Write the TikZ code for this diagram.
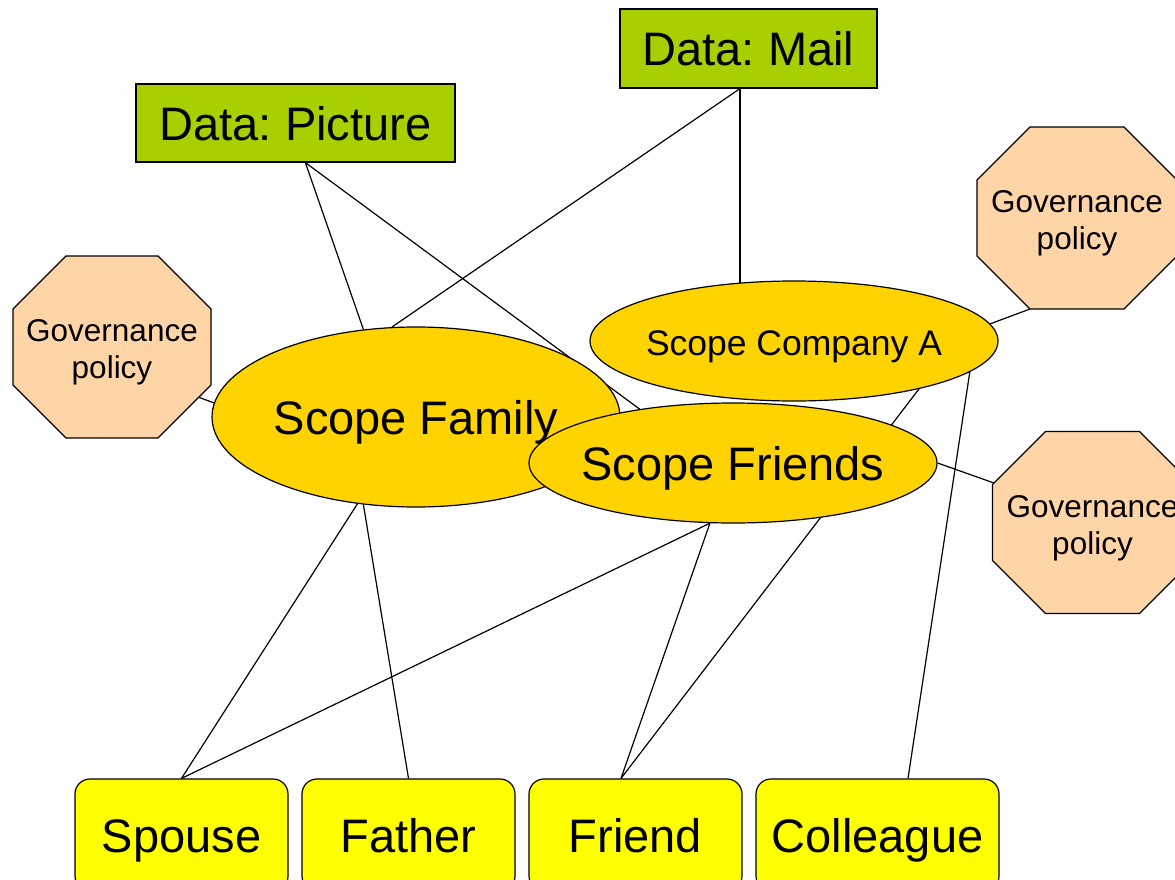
\documentclass[tikz,border=0pt]{standalone}
\usepackage{fontspec}
\setmainfont{Liberation Sans}
\usetikzlibrary{shapes.geometric}
\pgfdeclarelayer{background}
\pgfdeclarelayer{outlines}
\pgfsetlayers{background,outlines,main}
\frenchspacing
\definecolor{datagreen}{HTML}{A8D000}
\definecolor{scopegold}{HTML}{FFD300}
\definecolor{policypeach}{HTML}{FFD5A8}
\definecolor{roleyellow}{HTML}{FFFF00}
\tikzset{
  bigfont/.style={font=\fontsize{47}{56}\selectfont, text height=42pt, text depth=8pt},
  databox/.style={rectangle, draw=black, line width=1.2pt, fill=datagreen, inner sep=0pt, bigfont},
  scope/.style={ellipse, draw=black, line width=1.2pt, fill=scopegold, inner sep=0pt,
    minimum width=408pt},
  policy/.style={rectangle, inner sep=0pt, outer sep=0pt, minimum height=182pt, align=center,
    font=\fontsize{31.5}{37}\selectfont},
  policyline/.style={fill=policypeach, draw=black, line width=1.2pt, line join=miter},
  role/.style={rectangle, rounded corners=15pt, draw=black, line width=1.2pt, fill=roleyellow,
    minimum height=112pt, inner sep=0pt, bigfont},
  link/.style={draw=black, line width=1.2pt},
}
% octagonal outline around a rectangular node: #1 node name, #2 corner cut, #3 lift
\newcommand\policyoutline[3]{%
  \path[policyline] ([xshift=#2,yshift=#3]#1.north west) -- ([xshift=-#2,yshift=#3]#1.north east)
    -- ([yshift=#3-#2]#1.north east) -- ([yshift=#3+#2]#1.south east)
    -- ([xshift=-#2,yshift=#3]#1.south east) -- ([xshift=#2,yshift=#3]#1.south west)
    -- ([yshift=#3+#2]#1.south west) -- ([yshift=#3-#2]#1.north west) -- cycle;}
% text that does not widen the surrounding ellipse
\newcommand\inscope[1]{\makebox[0pt]{#1}}
\begin{document}
\begin{tikzpicture}[x=1pt,y=-1pt]
\useasboundingbox (0,0) rectangle (1175,880);

% data sources
\node[databox, minimum width=319pt, minimum height=78pt] (pic) at (295.5,123) {Data: Picture};
\node[databox, minimum width=257pt, minimum height=79pt] (mail) at (748.5,48.5) {Data: Mail};

% governance policies (text sits a little below the octagon centre)
\node[policy, minimum width=198pt] (gov1) at (112,352.5) {Governance\\policy};
\node[policy, minimum width=200pt] (gov2) at (1077,223.5) {Governance\\policy};
\node[policy, minimum width=200pt] (gov3) at (1092.5,528) {Governance\\policy};
\begin{pgfonlayer}{outlines}
\policyoutline{gov1}{53pt}{5.5pt}
\policyoutline{gov2}{53pt}{5.5pt}
\policyoutline{gov3}{53pt}{5.5pt}
\end{pgfonlayer}

% scopes
\node[scope, minimum height=180pt, bigfont] (fam) at (416,417) {\inscope{Scope Family}};
\node[scope, minimum height=120pt, font=\fontsize{35.5}{42}\selectfont, text height=32pt, text depth=4pt]
  (com) at (794,341) {\inscope{Scope Company A}};
\node[scope, minimum height=120pt, bigfont] (frd) at (733,463) {\inscope{Scope Friends}};

% roles
\node[role, minimum width=213pt] (spo) at (181.5,835) {Spouse};
\node[role, minimum width=213pt] (fat) at (408.5,835) {Father};
\node[role, minimum width=213pt] (fri) at (635.5,835) {Friend};
\node[role, minimum width=243pt] (col) at (877.5,835) {Colleague};

% connectors run behind the shapes
\begin{pgfonlayer}{background}
\draw[link] (pic.284) -- (fam.121);
\draw[link] (pic.284) -- (frd.150);
\draw[link] (mail.258) -- (fam.105);
\draw[link] (mail.258) -- (mail.258 |- com.center);
\draw[link] (com.5) -- ([xshift=-47pt,yshift=5.5pt]gov2.south);
\draw[link] ([xshift=-13pt,yshift=-44.5pt]gov1.east) -- (fam.176);
\draw[link] (frd.east) -- ([xshift=1.5pt,yshift=45pt]gov3.west);
\draw[link] ([xshift=-14.5pt]fri.north) -- (com.339);
\draw[link] ([xshift=30.5pt]col.north) -- (com.350);
\draw[link] (fam.236) -- (spo.north);
\draw[link] (fam.239) -- (fat.north);
\draw[link] (frd.249) -- (spo.north);
\draw[link] (frd.249) -- ([xshift=-14.5pt]fri.north);
\end{pgfonlayer}
\end{tikzpicture}
\end{document}
